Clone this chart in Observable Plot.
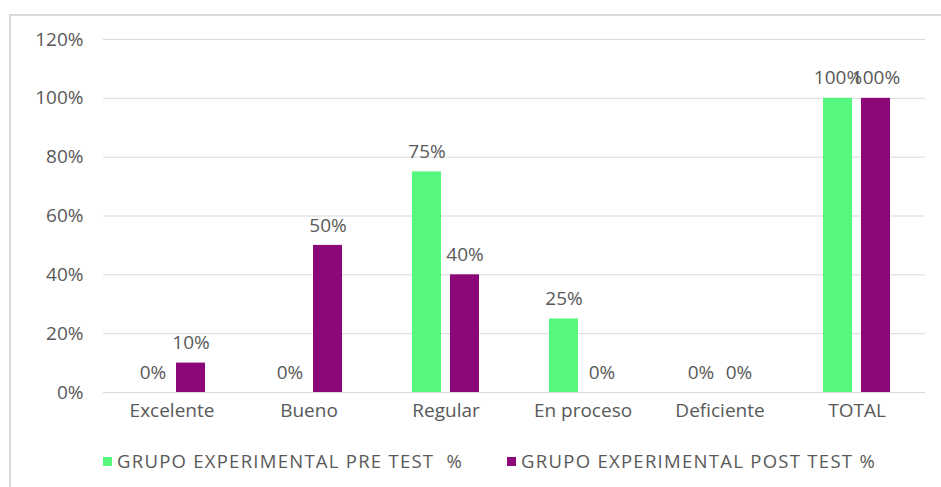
<!DOCTYPE html>
<html>
<head>
<meta charset="utf-8">
<script src="https://cdn.jsdelivr.net/npm/d3@7"></script>
<script src="https://cdn.jsdelivr.net/npm/@observablehq/plot@0.6"></script>
<style>
  html, body { margin: 0; padding: 0; background: #fff; }
  #wrap { position: relative; width: 941px; height: 487px; overflow: hidden; font-family: "Open Sans", Lato, sans-serif; }
  #frame { position: absolute; left: 9px; top: 14px; width: 940px; height: 480px; border-left: 2px solid #d9d9d9; border-top: 2px solid #d9d9d9; }
  #chart { position: absolute; left: 0; top: 0; }
  .leg { position: absolute; top: 449px; font-size: 18.5px; color: #595959; white-space: pre; line-height: 24px; }
  .sw { position: absolute; top: 457px; width: 9px; height: 9px; }
</style>
</head>
<body>
<div id="wrap">
  <div id="frame"></div>
  <div id="chart"></div>
</div>
<script>
const categories = ["Excelente", "Bueno", "Regular", "En proceso", "Deficiente", "TOTAL"];
const preTest = [0, 0, 75, 25, 0, 100];
const postTest = [10, 50, 40, 0, 0, 100];
const series = ["GRUPO EXPERIMENTAL PRE TEST  %", "GRUPO EXPERIMENTAL POST TEST %"];
const colors = ["#55f77e", "#8c0878"];
const yTicks = [0, 20, 40, 60, 80, 100, 120];

const data = categories.flatMap((c, i) => [
  {cat: c, s: series[0], v: preTest[i]},
  {cat: c, s: series[1], v: postTest[i]}
]);

const chart = Plot.plot({
  width: 941,
  height: 430,
  marginLeft: 101,
  marginRight: 14,
  marginTop: 39,
  marginBottom: 38,
  style: {fontFamily: "'Open Sans', Lato, sans-serif", fontSize: "19px", color: "#595959", background: "transparent"},
  fx: {domain: categories, padding: 0, label: null, axis: "bottom", tickSize: 0, tickPadding: 11},
  x: {domain: series, axis: null, paddingInner: 0.2308, paddingOuter: 0.88},
  y: {domain: [0, 120], ticks: yTicks, tickFormat: d => d + "%", label: null, tickSize: 0, tickPadding: 20},
  color: {domain: series, range: colors},
  marks: [
    Plot.gridY(yTicks, {stroke: "#d9d9d9", strokeOpacity: 1, strokeWidth: 1}),
    Plot.barY(data, {fx: "cat", x: "s", y: "v", fill: "s"}),
    Plot.text(data, {fx: "cat", x: "s", y: "v", text: d => d.v + "%", dy: -20, fill: "#595959", fontSize: 19})
  ]
});
document.getElementById("chart").appendChild(chart);

const wrap = document.getElementById("wrap");
const legendPos = [[103, 117, 346], [507, 521, 355]];
series.forEach((s, i) => {
  const sw = document.createElement("div");
  sw.className = "sw";
  sw.style.left = legendPos[i][0] + "px";
  sw.style.background = colors[i];
  wrap.appendChild(sw);
  const t = document.createElement("div");
  t.className = "leg";
  t.style.left = legendPos[i][1] + "px";
  t.textContent = s;
  wrap.appendChild(t);
  const w = t.getBoundingClientRect().width;
  const extra = (legendPos[i][2] - w) / s.length;
  t.style.letterSpacing = extra + "px";
});
</script>
</body>
</html>
